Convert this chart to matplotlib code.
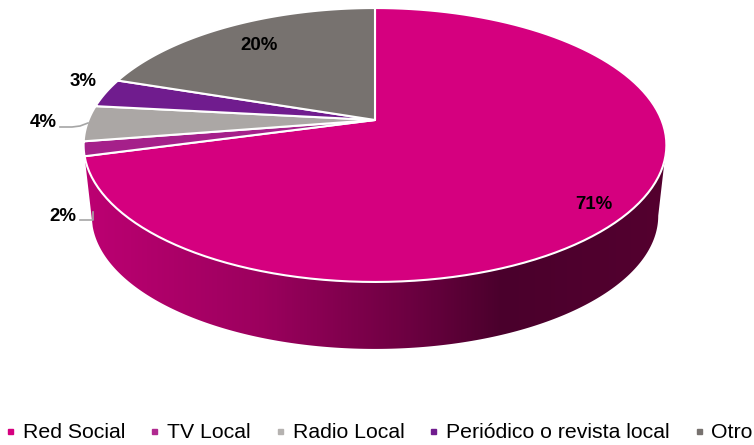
import numpy as np
import matplotlib
matplotlib.use("Agg")
import matplotlib.pyplot as plt
from matplotlib.lines import Line2D
from matplotlib.patches import Polygon
from matplotlib.colors import LinearSegmentedColormap

plt.rcParams['font.family'] = ['Liberation Sans', 'DejaVu Sans']

categories = ["Red Social", "TV Local", "Radio Local", "Periódico o revista local", "Otro"]
values = [70.8, 1.7, 4.2, 3.4, 19.9]
colors = ["#D5007F", "#A5208A", "#ABA7A5", "#701C8E", "#77726F"]
legend_colors = ["#D5007F", "#B02A90", "#B5B2B0", "#701C8E", "#77726F"]
label_pos = [(593.5, 204.5), (62.5, 216.5), (43.5, 122.5), (83.5, 81.5), (259.5, 45.5)]


# perspective view of the pie circle, theta clockwise from 12 o'clock
def project(theta, scale=1.0, y0=120.0):
    k = 0.1825
    u = np.sin(theta)
    v = np.cos(theta)
    d = 1 + k * v
    return 375 + scale * 286.5 * u / d, y0 - scale * 132.4 * v / d


fig = plt.figure(figsize=(7.54, 4.45), dpi=100)
ax = fig.add_axes([0, 0, 1, 1])

edges = np.radians(np.cumsum([0] + values) * 3.6)

# side wall, only the big slice shows
side_t = np.linspace(np.radians(100.5), edges[1], 200)
tx, ty = project(side_t)
bx, by = project(side_t[::-1], 0.972, 191.5)
side = Polygon(np.c_[np.r_[tx, bx], np.r_[ty, by]], closed=True, fc="none", ec="none")
ax.add_patch(side)
cmap = LinearSegmentedColormap.from_list("side", [
    (0.0, "#BC0072"), (0.3, "#9C005E"), (0.55, "#6E0042"), (0.72, "#4A002C"), (1.0, "#54002F")])
grad = ax.imshow(np.linspace(0, 1, 300).reshape(1, -1), extent=(85, 666, 350, 120),
                 cmap=cmap, aspect="auto", zorder=1)
grad.set_clip_path(side)

# top of the pie
for i, val in enumerate(values):
    t = np.linspace(edges[i], edges[i + 1], 120)
    x, y = project(t)
    ax.fill(np.r_[375, x], np.r_[120, y], color=colors[i], ec="white", lw=1.5,
            joinstyle="round", zorder=2)

# labels
for val, (lx, ly) in zip(values, label_pos):
    ax.text(lx, ly, f"{round(val)}%", ha="center", va="center", fontsize=13.4,
            fontweight="bold", color="black", zorder=4)

# leader lines
ax.plot([60, 72, 80, 88], [127, 127, 126, 123], color="#A6A6A6", lw=1.2, zorder=3)
ax.plot([80, 93, 93], [220, 220, 212], color="#A6A6A6", lw=1.2, zorder=3)

handles = [Line2D([], [], ls="", marker="s", ms=3.6, color=c) for c in legend_colors]
ax.legend(handles, categories, ncol=5, frameon=False, fontsize=15.3,
          loc="center left", bbox_to_anchor=(6 / 754, 1 - 433 / 445), borderpad=0, borderaxespad=0,
          handlelength=0.4, handletextpad=0.4, columnspacing=1.165)

ax.set_xlim(0, 754)
ax.set_ylim(445, 0)
ax.axis("off")
fig.savefig("out.png", dpi=100)
